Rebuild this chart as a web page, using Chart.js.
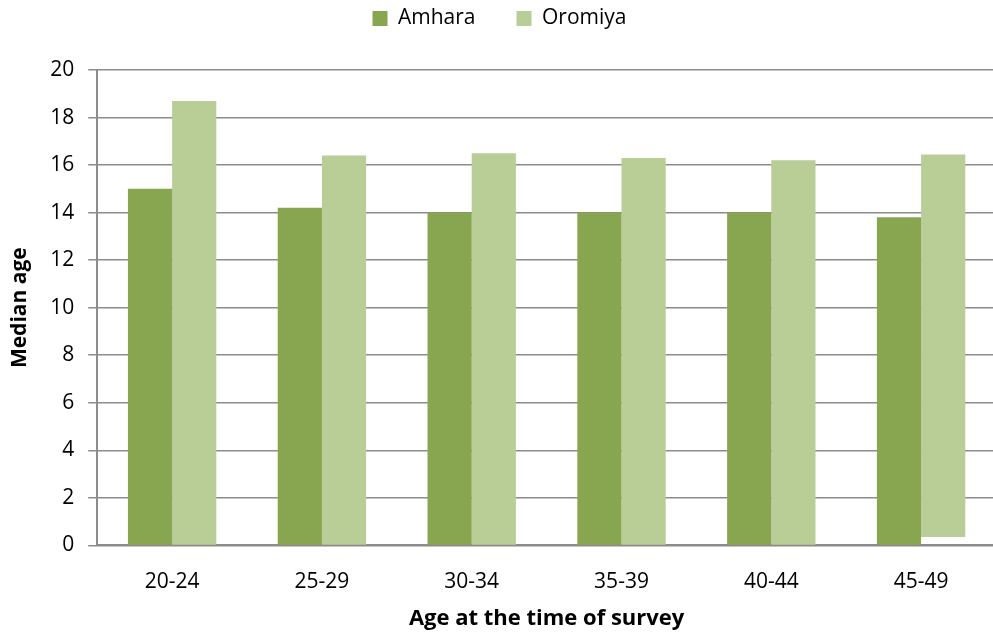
<!DOCTYPE html>
<html>
<head>
<meta charset="utf-8">
<script src="https://cdn.jsdelivr.net/npm/chart.js@4/dist/chart.umd.min.js"></script>
<style>
  html, body { margin: 0; padding: 0; background: #fff; overflow: hidden; }
  #wrap { width: 1000px; height: 634px; position: relative; }
</style>
</head>
<body>
<div id="wrap"><canvas id="chart"></canvas></div>
<script>
// median age at first marriage
const AGE_GROUPS = ['20-24', '25-29', '30-34', '35-39', '40-44', '45-49']
const AMHARA  = [15.0, 14.2, 14.0, 14.0, 14.0, 13.8]
// last Oromiya bar sits slightly above the axis in the original
const OROMIYA = [18.7, 16.4, 16.5, 16.3, 16.2, [0.35, 16.45]]
const Y_TICKS = [0, 2, 4, 6, 8, 10, 12, 14, 16, 18, 20]

const FONT = "'Open Sans', Lato, sans-serif"
const GRID = '#8c8c8c'

// extra room under the legend, like the original
const legendGap = {
  id: 'legendGap',
  beforeInit(chart) {
    const fit = chart.legend.fit
    chart.legend.fit = function () {
      fit.call(this)
      this.height += 31
    }
  },
}

new Chart(document.getElementById('chart'), {
  type: 'bar',
  data: {
    labels: AGE_GROUPS,
    datasets: [
      { label: 'Amhara',  data: AMHARA,  backgroundColor: '#88a54f', borderWidth: 0 },
      { label: 'Oromiya', data: OROMIYA, backgroundColor: '#b9cd96', borderWidth: 0 },
    ],
  },
  plugins: [legendGap],
  options: {
    responsive: true,
    maintainAspectRatio: false,
    animation: false,
    categoryPercentage: 0.59,
    barPercentage: 1.0,
    layout: { padding: { left: 3, right: 4, top: -33, bottom: -2 } },
    plugins: {
      tooltip: { enabled: false },
      legend: {
        position: 'top',
        labels: {
          color: '#000', font: { family: FONT, size: 21 },
          boxWidth: 15, boxHeight: 15, padding: 41,
        },
      },
    },
    scales: {
      x: {
        grid: { display: false },
        border: { color: GRID, width: 2 },
        ticks: { color: '#000', font: { family: FONT, size: 21 }, padding: 16 },
        title: { display: true, text: 'Age at the time of survey', color: '#000',
                 font: { family: FONT, size: 22, weight: 'bold' }, padding: { top: -5 } },
      },
      y: {
        min: 0, max: 20,
        afterBuildTicks: axis => { axis.ticks = Y_TICKS.map(v => ({ value: v })) },
        grid: { color: GRID, lineWidth: 1.5, tickLength: 9 },
        border: { color: GRID, width: 2 },
        ticks: { color: '#000', font: { family: FONT, size: 21 }, padding: 14 },
        title: { display: true, text: 'Median age', color: '#000',
                 font: { family: FONT, size: 21, weight: 'bold' }, padding: { bottom: 4 } },
      },
    },
  },
})
</script>
</body>
</html>
